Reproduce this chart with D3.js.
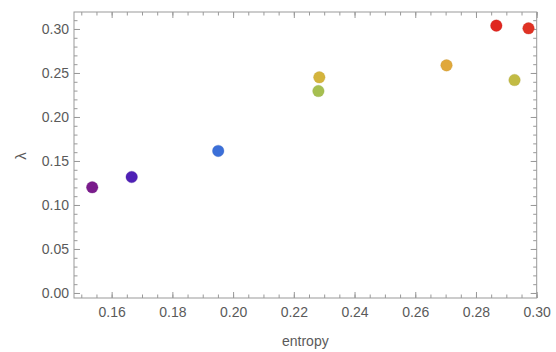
<!DOCTYPE html>
<html>
<head>
<meta charset="utf-8">
<script src="https://cdn.jsdelivr.net/npm/d3@7"></script>
<style>
  body { margin: 0; background: #fff; }
  svg { display: block; font-family: "Liberation Sans", "DejaVu Sans", sans-serif; }
  .axis path { display: none; }
  .axis line { stroke: #999; }
  .axis text { fill: #5a5a5a; font-size: 14px; }
</style>
</head>
<body>
<svg id="chart" width="556" height="352"></svg>
<script>
// data
const entropy = [0.1536, 0.1666, 0.1951, 0.2284, 0.2281, 0.2703, 0.2867, 0.2973, 0.2927];
const lambda  = [0.1201, 0.1318, 0.1614, 0.2451, 0.2295, 0.2587, 0.3038, 0.3008, 0.2420];
const colors  = ['#7a1b8c', '#4f20b6', '#3b6fd8', '#d4b43c', '#a6bf50', '#e0a83b', '#e0261f', '#e03224', '#c2bb44'];
const xTicks = [0.16, 0.18, 0.20, 0.22, 0.24, 0.26, 0.28, 0.30];
const yTicks = [0.00, 0.05, 0.10, 0.15, 0.20, 0.25, 0.30];

const svgWidth = 556, svgHeight = 352;
const frame = { left: 74, right: 536.7, top: 12, bottom: 298 };

const svg = d3.select('#chart');

const x = d3.scaleLinear()
    .domain([0.1476, 0.30])
    .range([frame.left, frame.right]);
const y = d3.scaleLinear()
    .domain([-0.0057, 0.3193])
    .range([frame.bottom, frame.top]);

// minor ticks
const xMinor = d3.range(0.15, 0.3001, 0.005).filter(v => v >= 0.1476);
const yMinor = d3.range(0, 0.3193, 0.01);

function minorAxis(g, axis) {
    g.call(axis).selectAll('text').remove();
}

// bottom
svg.append('g').attr('class', 'axis')
    .attr('transform', 'translate(0,' + frame.bottom + ')')
    .call(g => minorAxis(g, d3.axisBottom(x).tickValues(xMinor).tickSize(-3.5)));
svg.append('g').attr('class', 'axis')
    .attr('transform', 'translate(0,' + frame.bottom + ')')
    .call(d3.axisBottom(x).tickValues(xTicks).tickSize(-6).tickPadding(9).tickFormat(d3.format('.2f')));
// top
svg.append('g').attr('class', 'axis')
    .attr('transform', 'translate(0,' + frame.top + ')')
    .call(g => minorAxis(g, d3.axisTop(x).tickValues(xMinor).tickSize(-3.5)));
svg.append('g').attr('class', 'axis')
    .attr('transform', 'translate(0,' + frame.top + ')')
    .call(g => minorAxis(g, d3.axisTop(x).tickValues(xTicks).tickSize(-6)));
// left
svg.append('g').attr('class', 'axis')
    .attr('transform', 'translate(' + frame.left + ',0)')
    .call(g => minorAxis(g, d3.axisLeft(y).tickValues(yMinor).tickSize(-3.5)));
svg.append('g').attr('class', 'axis')
    .attr('transform', 'translate(' + frame.left + ',0)')
    .call(d3.axisLeft(y).tickValues(yTicks).tickSize(-6).tickPadding(5).tickFormat(d3.format('.2f')));
// right
svg.append('g').attr('class', 'axis')
    .attr('transform', 'translate(' + frame.right + ',0)')
    .call(g => minorAxis(g, d3.axisRight(y).tickValues(yMinor).tickSize(-3.5)));
svg.append('g').attr('class', 'axis')
    .attr('transform', 'translate(' + frame.right + ',0)')
    .call(g => minorAxis(g, d3.axisRight(y).tickValues(yTicks).tickSize(-6)));

// frame
svg.append('rect')
    .attr('x', frame.left)
    .attr('y', frame.top)
    .attr('width', frame.right - frame.left)
    .attr('height', frame.bottom - frame.top)
    .attr('fill', 'none')
    .attr('stroke', '#999')
    .attr('stroke-width', 1);

// points
svg.append('g')
    .selectAll('circle')
    .data(entropy)
    .join('circle')
    .attr('cx', d => x(d))
    .attr('cy', (d, i) => y(lambda[i]))
    .attr('r', 5.8)
    .attr('fill', (d, i) => colors[i])
    .attr('stroke', (d, i) => d3.color(colors[i]).darker(0.4))
    .attr('stroke-opacity', 0.35)
    .attr('stroke-width', 0.8);

// axis labels
svg.append('text')
    .attr('x', (frame.left + frame.right) / 2)
    .attr('y', 346)
    .attr('text-anchor', 'middle')
    .attr('fill', '#5a5a5a')
    .style('font-size', '14px')
    .text('entropy');

svg.append('text')
    .attr('transform', 'translate(26,156) rotate(-90)')
    .attr('text-anchor', 'middle')
    .attr('fill', '#5a5a5a')
    .style('font-size', '15px')
    .text('λ');
</script>
</body>
</html>
